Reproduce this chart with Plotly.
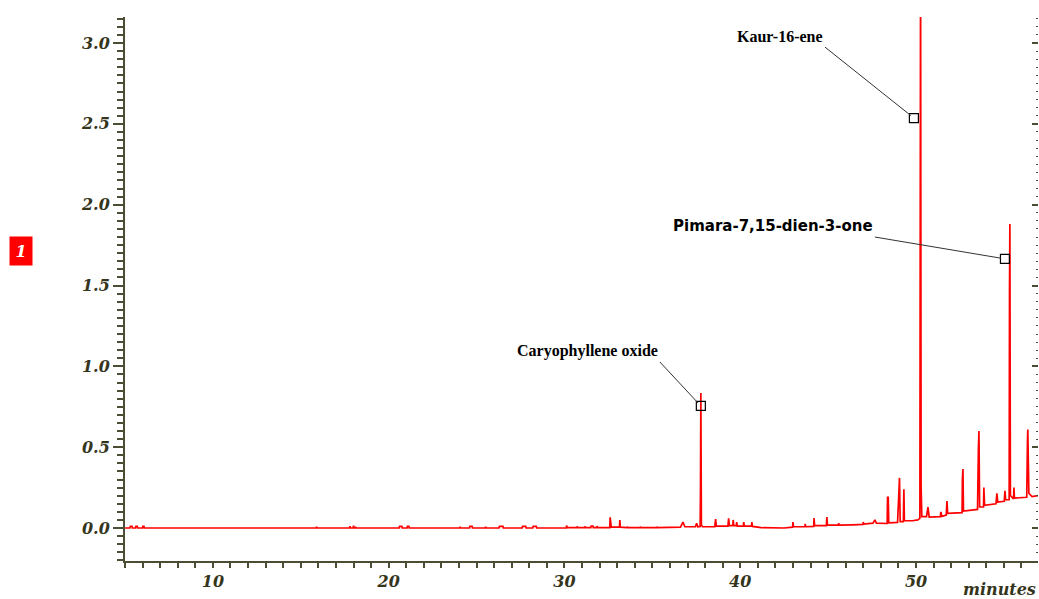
import plotly.graph_objects as go

# ---- chromatogram data (retention time in minutes, detector response) ----
time_min = [
    5.00, 5.28, 5.30, 5.40, 5.42, 5.60, 5.62, 5.70, 5.72, 6.00, 6.02, 6.08, 6.10,
    15.88, 15.90, 15.92, 17.78, 17.80, 17.82, 17.98, 18.00, 18.02, 18.10, 18.12, 18.14,
    20.60, 20.62, 20.75, 20.77, 21.05, 21.07, 21.15, 21.17,
    24.05, 24.07, 24.09, 24.60, 24.62, 24.75, 24.77, 25.50, 25.52, 25.54,
    26.28, 26.30, 26.50, 26.52, 27.60, 27.62, 27.80, 27.82, 28.20, 28.22, 28.40, 28.42,
    30.10, 30.12, 30.16, 30.70, 30.72, 30.75, 31.15, 31.17, 31.20, 31.50, 31.52, 31.62, 31.64,
    31.84, 31.86, 31.90, 32.58, 32.60, 32.64, 32.66, 33.13, 33.15, 33.18,
    33.55, 33.57, 33.60, 34.30, 34.32, 34.35, 35.25, 35.27, 35.30,
    36.60, 36.74, 36.85, 37.45, 37.52, 37.58, 37.72, 37.74, 37.76, 37.79, 37.85,
    38.55, 38.60, 38.64, 39.30, 39.34, 39.38, 39.58, 39.60, 39.63, 39.78, 39.80, 39.83,
    40.18, 40.20, 40.23, 40.64, 40.66, 40.70, 41.20, 42.50,
    42.98, 43.00, 43.03, 43.68, 43.70, 43.72, 44.18, 44.20, 44.23, 44.90, 44.93, 44.96,
    45.58, 45.60, 45.63, 46.40, 46.98, 47.00, 47.03, 47.55, 47.66, 47.75,
    48.36, 48.38, 48.42, 48.45, 48.95, 49.00, 49.06, 49.10, 49.28, 49.31, 49.34,
    49.80, 50.10, 50.22, 50.24, 50.26, 50.29, 50.33, 50.60, 50.68, 50.75,
    51.38, 51.42, 51.46, 51.72, 51.76, 51.80, 52.62, 52.64, 52.67, 52.70,
    53.50, 53.55, 53.58, 53.62, 53.84, 53.86, 53.90, 54.55, 54.60, 54.65,
    55.02, 55.06, 55.10, 55.30, 55.32, 55.34, 55.37, 55.55, 55.57, 55.60,
    56.30, 56.34, 56.36, 56.42, 56.60, 56.94,
]
response = [
    0.000, 0.000, 0.010, 0.010, 0.000, 0.000, 0.010, 0.010, 0.000, 0.000, 0.010, 0.010, 0.000,
    0.000, 0.008, 0.000, 0.000, 0.012, 0.000, 0.000, 0.015, 0.000, 0.000, 0.008, 0.000,
    0.000, 0.010, 0.010, 0.000, 0.000, 0.010, 0.010, 0.000,
    0.000, 0.008, 0.000, 0.000, 0.010, 0.010, 0.000, 0.000, 0.008, 0.000,
    0.000, 0.010, 0.010, 0.000, 0.000, 0.010, 0.010, 0.000, 0.000, 0.010, 0.010, 0.000,
    0.000, 0.015, 0.003, 0.003, 0.010, 0.003, 0.003, 0.010, 0.003, 0.003, 0.012, 0.012, 0.003,
    0.003, 0.012, 0.003, 0.003, 0.066, 0.030, 0.005, 0.005, 0.050, 0.005,
    0.003, 0.008, 0.003, 0.003, 0.008, 0.003, 0.003, 0.008, 0.003,
    0.005, 0.037, 0.008, 0.008, 0.030, 0.008, 0.010, 0.240, 0.835, 0.020, 0.008,
    0.008, 0.055, 0.012, 0.012, 0.060, 0.015, 0.015, 0.050, 0.015, 0.015, 0.037, 0.012,
    0.012, 0.037, 0.012, 0.012, 0.037, 0.010, 0.002, 0.000,
    0.005, 0.037, 0.008, 0.008, 0.025, 0.008, 0.010, 0.062, 0.015, 0.015, 0.068, 0.018,
    0.018, 0.030, 0.018, 0.020, 0.022, 0.037, 0.024, 0.030, 0.050, 0.030,
    0.028, 0.190, 0.190, 0.032, 0.035, 0.155, 0.310, 0.040, 0.040, 0.240, 0.045,
    0.045, 0.050, 0.060, 1.870, 3.600, 0.260, 0.070, 0.070, 0.130, 0.068,
    0.070, 0.100, 0.072, 0.080, 0.167, 0.090, 0.095, 0.300, 0.365, 0.105,
    0.115, 0.490, 0.600, 0.130, 0.130, 0.250, 0.140, 0.150, 0.215, 0.160,
    0.165, 0.230, 0.175, 0.175, 1.470, 1.880, 0.200, 0.180, 0.250, 0.185,
    0.190, 0.530, 0.610, 0.215, 0.195, 0.200,
]

# ---- labelled compounds ----
label_names = ["Caryophyllene oxide", "Kaur-16-ene", "Pimara-7,15-dien-3-one"]
label_times = [37.76, 49.88, 55.06]
label_values = [0.755, 2.536, 1.665]
label_fonts = ["Liberation Serif", "Liberation Serif", "DejaVu Sans"]
label_sizes = [16, 16, 15]
label_tail_times = [35.43, 44.82, 47.66]
label_tail_values = [1.027, 2.975, 1.80]

x_tick_vals = [10, 20, 30, 40, 50]
y_tick_vals = [0.0, 0.5, 1.0, 1.5, 2.0, 2.5, 3.0]

AXIS = "#4d4d33"
LABEL = "#35351c"
tickfont = dict(family="DejaVu Serif", size=16, color=LABEL, style="italic", weight="bold")

fig = go.Figure()
fig.add_trace(go.Scatter(
    x=time_min, y=response, mode="lines",
    line=dict(color="#ff0000", width=1.7, simplify=False),
    hoverinfo="skip", showlegend=False,
))
fig.add_trace(go.Scatter(
    x=label_times, y=label_values, mode="markers",
    marker=dict(symbol="square-open", size=9, color="black", line=dict(width=1.2, color="black")),
    hoverinfo="skip", showlegend=False,
))
# invisible trace to instantiate the right-side axis
fig.add_trace(go.Scatter(x=[None], y=[None], yaxis="y2", showlegend=False, hoverinfo="skip"))

for name, t, v, f, s, tt, tv in zip(label_names, label_times, label_values, label_fonts,
                                    label_sizes, label_tail_times, label_tail_values):
    fig.add_annotation(
        x=t, y=v, xref="x", yref="y", ax=tt, ay=tv, axref="x", ayref="y",
        text="<b>%s</b>" % name, showarrow=True, arrowhead=0, arrowwidth=1,
        arrowcolor="#333333", standoff=4, xanchor="right", yanchor="bottom",
        font=dict(family=f, size=s, color="black"),
    )

fig.add_annotation(
    x=1.0, y=-0.053, xref="paper", yref="paper", xanchor="right", yanchor="middle",
    text="minutes", showarrow=False,
    font=dict(family="DejaVu Serif", size=16, color=LABEL, style="italic", weight="bold"),
)
fig.add_annotation(
    x=-0.1139, y=0.569, xref="paper", yref="paper", xanchor="center", yanchor="middle",
    text="1", showarrow=False, bgcolor="#ff0000", width=20, height=26,
    font=dict(family="DejaVu Serif", size=16, color="white", style="italic", weight="bold"),
)

fig.update_layout(
    width=1039, height=599,
    margin=dict(l=125, r=1, t=17, b=38),
    plot_bgcolor="white", paper_bgcolor="white",
    hovermode=False,
    xaxis=dict(
        range=[5.0, 56.94], showgrid=False, zeroline=False,
        showline=True, linecolor=AXIS, linewidth=2,
        ticks="outside", ticklen=5, tickwidth=1.5, tickcolor=AXIS,
        tickvals=x_tick_vals, tickfont=tickfont,
        minor=dict(dtick=1, tick0=0, ticks="outside", ticklen=5, tickwidth=1.5, tickcolor=AXIS),
    ),
    yaxis=dict(
        range=[-0.204, 3.161], showgrid=False, zeroline=False,
        showline=True, linecolor=AXIS, linewidth=2,
        ticks="outside", ticklen=10, tickwidth=1.5, tickcolor=AXIS,
        tickvals=y_tick_vals, tickformat=".1f", tickfont=tickfont,
        minor=dict(dtick=0.05, tick0=0, ticks="outside", ticklen=6, tickwidth=1.5, tickcolor=AXIS),
    ),
    yaxis2=dict(
        range=[-0.204, 3.161], overlaying="y", side="right", anchor="x",
        showgrid=False, zeroline=False, showline=False, showticklabels=False,
        ticks="inside", ticklen=6, tickwidth=1.5, tickcolor=AXIS,
        tickvals=y_tick_vals,
        minor=dict(dtick=0.05, tick0=0, ticks="inside", ticklen=2, tickwidth=1, tickcolor=AXIS),
    ),
)

fig.write_html("out.html", config={"displayModeBar": False})

# remove the browser's default page margin so the figure fills the window exactly
with open("out.html", "r", encoding="utf-8") as fh:
    page = fh.read()
page = page.replace("<head>", "<head><style>html,body{margin:0;padding:0;overflow:hidden;}</style>", 1)
with open("out.html", "w", encoding="utf-8") as fh:
    fh.write(page)
